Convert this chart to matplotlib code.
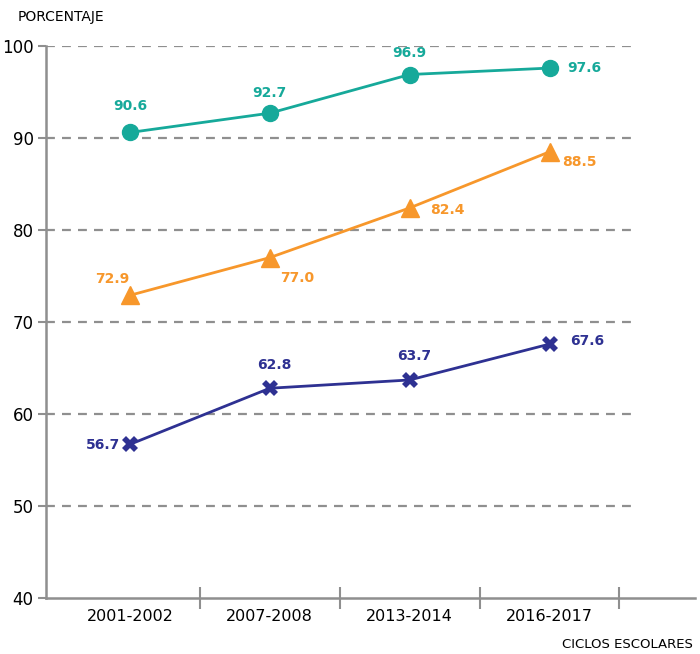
import matplotlib.pyplot as plt

ciclos = ["2001-2002", "2007-2008", "2013-2014", "2016-2017"]
serie_teal = [90.6, 92.7, 96.9, 97.6]
serie_naranja = [72.9, 77.0, 82.4, 88.5]
serie_azul = [56.7, 62.8, 63.7, 67.6]

teal = "#16A99A"
naranja = "#F7972B"
azul = "#2E3192"
gris = "#8f8f8f"

plt.rcParams["font.family"] = ["DejaVu Sans"]

fig = plt.figure(figsize=(7, 6.54), dpi=100)
ax = fig.add_axes([46 / 700, 1 - 598 / 654, (695 - 46) / 700, 552 / 654])

x = list(range(len(ciclos)))

for yv in [50, 60, 70, 80, 90, 100]:
    ax.plot([-0.6, 3.58], [yv, yv], color=gris, lw=1.6, ls=(0, (4, 3.2)), zorder=1)

ax.plot(x, serie_teal, color=teal, lw=2, marker="o", ms=11.5, zorder=3)
ax.plot(x, serie_naranja, color=naranja, lw=2, marker="^", ms=13, zorder=3)
ax.plot(x, serie_azul, color=azul, lw=2, marker="X", ms=12, mew=0, zorder=3)

# posiciones de las etiquetas (pixeles respecto al marcador)
off_teal = [(0, 26), (0, 20), (0, 22), (35, 0)]
off_naranja = [(-18, 16), (27, -20), (38, -2), (30, -10)]
off_azul = [(-27, -1), (5, 23), (5, 24), (38, 3)]

for vals, offs, col in [(serie_teal, off_teal, teal),
                        (serie_naranja, off_naranja, naranja),
                        (serie_azul, off_azul, azul)]:
    for xi, v, o in zip(x, vals, offs):
        ax.annotate(f"{v:.1f}", (xi, v), xytext=o, textcoords="offset pixels",
                    ha="center", va="center", color=col, fontsize=10, fontweight="bold")

ax.set_xlim(-0.6, 4.04)
ax.set_ylim(40, 100)
ax.set_yticks([40, 50, 60, 70, 80, 90, 100])
ax.tick_params(axis="y", length=6, width=1.5, color=gris, labelsize=12, pad=3)
ax.set_xticks(x)
ax.set_xticklabels(ciclos, fontsize=11.5)
ax.set_xticks([0.5, 1.5, 2.5, 3.5], minor=True)
ax.tick_params(axis="x", which="major", length=0, pad=8)
ax.tick_params(axis="x", which="minor", length=16, width=1.5, color=gris, direction="inout")

for s in ["top", "right"]:
    ax.spines[s].set_visible(False)
for s in ["left", "bottom"]:
    ax.spines[s].set_color(gris)
    ax.spines[s].set_linewidth(1.8)

fig.text(18 / 700, 1 - 17 / 654, "PORCENTAJE", fontsize=10, va="center", ha="left")
fig.text(693 / 700, 1 - 645 / 654, "CICLOS ESCOLARES", fontsize=9.5, va="center", ha="right")

fig.savefig("out.png", dpi=100)
